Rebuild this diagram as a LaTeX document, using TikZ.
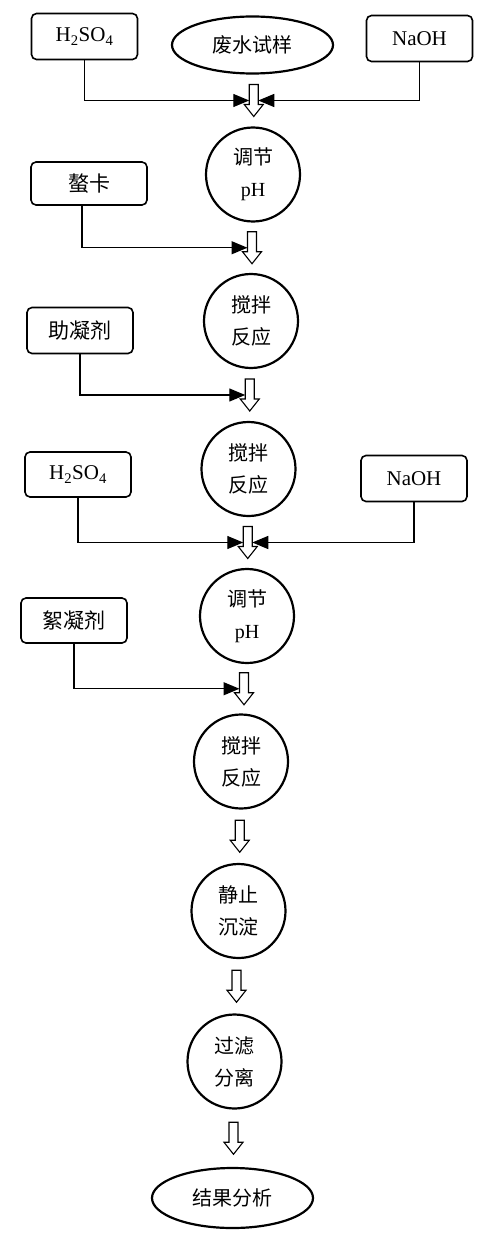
\documentclass[tikz,border=0pt]{standalone}
\usepackage{fontspec}
\setmainfont{Liberation Serif}
\newfontfamily\cjk{Noto Sans CJK SC}
\usepackage{tikz}
\usetikzlibrary{positioning}
\usetikzlibrary{shapes.geometric,arrows.meta,calc}
\tikzset{reagent/.style={draw,rectangle,rounded corners=5pt,line width=1.6pt,
           minimum width=106pt,minimum height=46pt,inner sep=0pt,
           font=\fontsize{21}{24}\selectfont},
         stage/.style={draw,circle,line width=2.2pt,minimum size=94pt,inner sep=0pt,
           align=center,font=\cjk\fontsize{20}{32}\selectfont},
         terminal/.style={draw,ellipse,line width=2.2pt,minimum width=161pt,
           minimum height=57pt,inner sep=0pt,font=\cjk\fontsize{20}{24}\selectfont},
         feed/.style={draw,line width=1.3pt,-{Triangle[length=16pt,width=13pt]}},
         pics/holarrow/.style={code={
           \draw[line width=1.1pt,fill=white] (-4.5,-16) -- (4.5,-16) -- (4.5,4)
             -- (9.5,4) -- (0,16) -- (-9.5,4) -- (-4.5,4) -- cycle;
           \coordinate (-l) at (-4.5,0);
           \coordinate (-r) at (4.5,0);}}}

\begin{document}
\begin{tikzpicture}[x=1pt,y=-1pt]
  \useasboundingbox (0,0) rectangle (500,1249);
  \node[reagent] (acid1) at (84.5,36.5) {H\textsubscript{2}SO\textsubscript{4}};
  \node[terminal] (sample) at (252.5,45) {废水试样};
  \node[reagent] (base1) at (419.5,38.5) {NaOH};
  \node[stage] (ph1) at (253,174.5) {调节\\{\rmfamily pH}};
  \node[reagent,minimum width=116pt,minimum height=43pt] (chel) at (89,183.5) {\cjk 螯卡};
  \node[stage] (mix1) at (251,321) {搅拌\\反应};
  \node[reagent] (aid) at (80,330.5) {\cjk 助凝剂};
  \node[stage] (mix2) at (248.5,469) {搅拌\\反应};
  \node[reagent,minimum height=45pt] (acid2) at (78,474.5) {H\textsubscript{2}SO\textsubscript{4}};
  \node[reagent] (base2) at (414,478.5) {NaOH};
  \node[stage] (ph2) at (247,616) {调节\\{\rmfamily pH}};
  \node[reagent,minimum height=45pt] (floc) at (74,620.5) {\cjk 絮凝剂};
  \node[stage] (mix3) at (241,761.5) {搅拌\\反应};
  \node[stage] (settle) at (238.5,911) {静止\\沉淀};
  \node[stage] (filter) at (234.5,1061.5) {过滤\\分离};
  \node[terminal,minimum height=60pt] (result) at (232.5,1198) {结果分析};

  \pic (a1) at ($(sample.south)!.5!(ph1.north)+(1,0)$) {holarrow};
  \pic (a2) at ($(ph1.south)!.5!(mix1.north)$) {holarrow};
  \pic (a3) at ($(mix1.south)!.5!(mix2.north)$) {holarrow};
  \pic (a4) at ($(mix2.south)!.5!(ph2.north)$) {holarrow};
  \pic (a5) at ($(ph2.south)!.5!(mix3.north)$) {holarrow};
  \pic (a6) at ($(mix3.south)!.5!(settle.north)$) {holarrow};
  \pic (a7) at ($(settle.south)!.5!(filter.north)$) {holarrow};
  \pic (a8) at ($(filter.south)!.5!(result.north)$) {holarrow};

  \draw[feed] (acid1.south) |- (a1-l);
  \draw[feed] (base1.south) |- (a1-r);
  \draw[feed] ([xshift=-7pt]chel.south) |- (a2-l);
  \draw[feed] (aid.south) |- (a3-l);
  \draw[feed] (acid2.south) |- (a4-l);
  \draw[feed] (base2.south) |- (a4-r);
  \draw[feed] (floc.south) |- (a5-l);
\end{tikzpicture}
\end{document}
